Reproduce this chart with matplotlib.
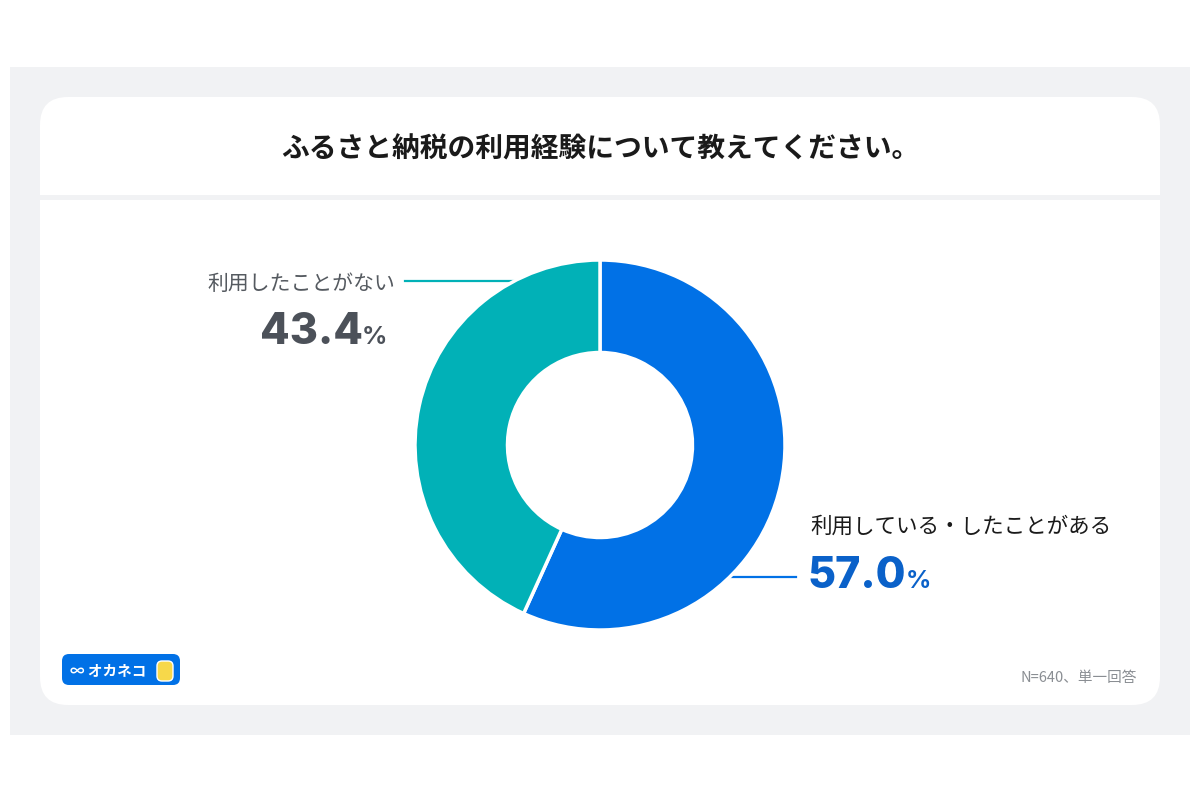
import matplotlib.pyplot as plt
from matplotlib.patches import FancyBboxPatch, Rectangle

plt.rcParams['font.family'] = ['Noto Sans CJK JP', 'DejaVu Sans']

# =============================
# DATA
# =============================
title = "ふるさと納税の利用経験について教えてください。"
labels = ["利用している・したことがある", "利用したことがない"]
values = [57.0, 43.4]
value_texts = ["57.0", "43.4"]
colors = ["#0171E6", "#01B1B7"]
note = "N=640、単一回答"

NUM_FONT = ["Inter", "DejaVu Sans"]

# =============================
# CANVAS (pixel coordinates)
# =============================
fig = plt.figure(figsize=(12, 8), dpi=100)
bg = fig.add_axes([0, 0, 1, 1])
bg.set_xlim(0, 1200)
bg.set_ylim(800, 0)
bg.axis("off")

bg.add_patch(Rectangle((10, 67), 1180, 668, color="#F1F2F4", lw=0))
bg.add_patch(FancyBboxPatch((40, 97), 1120, 608,
                            boxstyle="round,pad=0,rounding_size=28",
                            fc="white", ec="none"))
bg.add_patch(Rectangle((40, 195), 1120, 5, color="#F1F2F4", lw=0))

bg.text(600, 150, title, ha="center", va="center", fontsize=20,
        fontweight="bold", color="#1A1A1A")

# =============================
# DONUT
# =============================
cx, cy, r = 600, 445, 185
pax = fig.add_axes([(cx - r) / 1200, 1 - (cy + r) / 800, 2 * r / 1200, 2 * r / 800])
pax.pie(values, colors=colors, startangle=90, counterclock=False,
        wedgeprops=dict(width=0.5, edgecolor="white", linewidth=2.5))
pax.set_xlim(-1, 1)
pax.set_ylim(-1, 1)
pax.set_aspect("equal")
pax.axis("off")

# leader lines
bg.plot([405, 518], [281, 281], color=colors[1], lw=1.6)
bg.plot([728, 796], [577, 577], color=colors[0], lw=1.6)

renderer = fig.canvas.get_renderer()


def pct_label(x, y, txt, color, align):
    """number + smaller % sign; align is 'left' (x = start) or 'right' (x = end of %)"""
    pct = bg.text(0, 0, "%", ha="left", va="center", fontsize=18,
                  fontweight="bold", color=color, family=NUM_FONT)
    num = bg.text(0, 0, txt, ha="left", va="center", fontsize=31,
                  fontweight="heavy", color=color, family=NUM_FONT)
    w_num = num.get_window_extent(renderer).width
    w_pct = pct.get_window_extent(renderer).width
    x0 = x if align == "left" else x - w_num - w_pct
    num.set_position((x0, y))
    pct.set_position((x0 + w_num - 1, y + 5))


# labels - "not used"
bg.text(395, 284, labels[1], ha="right", va="center", fontsize=15, color="#555A60")
pct_label(388, 333, value_texts[1], "#4C5159", "right")

# labels - "used"
bg.text(810, 527, labels[0], ha="left", va="center", fontsize=15.5, color="#1A1A1A")
pct_label(808, 576, value_texts[0], "#0A61C9", "left")

# =============================
# LOGO + NOTE
# =============================
bg.add_patch(FancyBboxPatch((62, 654), 118, 31,
                            boxstyle="round,pad=0,rounding_size=7",
                            fc="#0171E6", ec="none"))
bg.text(70, 670, "∞ オカネコ", ha="left", va="center", fontsize=10.5,
        fontweight="bold", color="white")
bg.add_patch(FancyBboxPatch((157, 661), 16, 20,
                            boxstyle="round,pad=0,rounding_size=5",
                            fc="#F7D84A", ec="white", lw=1))

bg.text(1137, 678, note, ha="right", va="center", fontsize=10.5, color="#8A8E93")

fig.savefig("out.png", dpi=100)
